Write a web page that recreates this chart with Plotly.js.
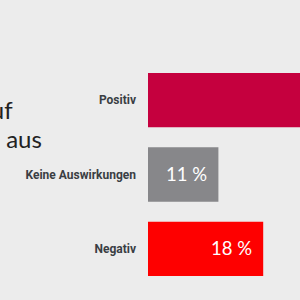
<!DOCTYPE html>
<html>
<head>
<meta charset="utf-8">
<script src="https://cdn.plot.ly/plotly-3.0.1.min.js"></script>
<style>html,body{margin:0;padding:0;background:#ececec;}#chart{width:300px;height:300px;}</style>
</head>
<body>
<div id="chart"></div>
<script>
var categories = ["Positiv", "Keine Auswirkungen", "Negativ"];
var values = [71, 11, 18];
var barColors = ["#c5003e", "#87878a", "#fe0000"];
var valueLabels = ["71 %", "11 %", "18 %"];
var titleLines = ["Wie wirkt sich die Krise auf", "Ihr Unternehmen aus"];

var trace = {
  type: "bar",
  orientation: "h",
  y: categories,
  x: values,
  marker: {color: barColors, line: {width: 0}},
  textposition: "none",
  hoverinfo: "skip"
};

var annotations = categories.map(function (c, i) {
  return {
    xref: "x", yref: "y", x: values[i], y: c,
    text: valueLabels[i], showarrow: false,
    xanchor: "right", yanchor: "middle", xshift: -9, yshift: 1,
    font: {family: "Lato", size: 18.5, color: "#ffffff"}
  };
});
annotations.push({
  xref: "paper", yref: "paper", x: 0, y: 1,
  text: titleLines[0], showarrow: false,
  xanchor: "right", yanchor: "middle", xshift: -133, yshift: -46,
  font: {family: "Lato", size: 24, color: "#222222"}
});
annotations.push({
  xref: "paper", yref: "paper", x: 0, y: 1,
  text: titleLines[1], showarrow: false,
  xanchor: "right", yanchor: "middle", xshift: -104, yshift: -75,
  font: {family: "Lato", size: 24, color: "#222222"}
});

var layout = {
  width: 300, height: 300,
  margin: {l: 148, r: 0, t: 63, b: 14, pad: 0},
  paper_bgcolor: "#ececec",
  plot_bgcolor: "#ececec",
  showlegend: false,
  bargap: 0.27,
  xaxis: {range: [0, 23.75], visible: false, fixedrange: true},
  yaxis: {
    type: "category", autorange: "reversed",
    showgrid: false, zeroline: false, showline: false, ticks: "",
    ticklabelstandoff: 11,
    tickfont: {family: "Roboto", size: 12, color: "#3a3e43", weight: 700}
  },
  annotations: annotations
};

Plotly.newPlot("chart", [trace], layout, {staticPlot: true, displayModeBar: false});
</script>
</body>
</html>
